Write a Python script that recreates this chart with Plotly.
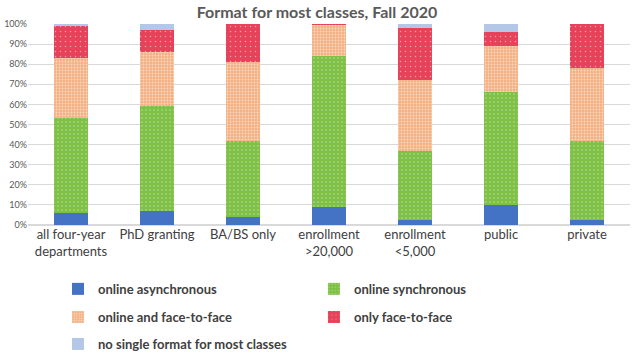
import plotly.graph_objects as go

categories = ["all four-year<br>departments", "PhD granting", "BA/BS only",
              "enrollment<br>&gt;20,000", "enrollment<br>&lt;5,000", "public", "private"]
online_async = [6, 7, 4, 9, 2.5, 10, 2.5]
online_sync = [47, 52, 38, 75, 34.5, 56, 39.5]
online_f2f = [30, 27, 39, 15.5, 35, 23, 36]
only_f2f = [16, 11, 19, 0.5, 26, 7, 22]
no_single = [1, 3, 0, 0, 2, 4, 0]

series = [
    ("online asynchronous", online_async, "#4472C4", None),
    ("online synchronous", online_sync, "#7FC146", dict(shape=".", size=4, solidity=0.12)),
    ("online and face-to-face", online_f2f, "#F4B183", dict(shape=".", size=3, solidity=0.3)),
    ("only face-to-face", only_f2f, "#E6425A", dict(shape=".", size=5, solidity=0.07)),
    ("no single format for most classes", no_single, "#B4C7E7", None),
]

legend_pos = [(0.0498, -0.318), (0.475, -0.318), (0.0498, -0.458), (0.475, -0.458), (0.0498, -0.592)]
legend_names = ["legend", "legend2", "legend3", "legend4", "legend5"]

fig = go.Figure()
for i, (name, vals, color, pat) in enumerate(series):
    marker = dict(color=color, line=dict(width=0))
    if pat:
        marker["pattern"] = dict(fillmode="overlay", fgcolor="white", bgcolor=color, **pat)
    fig.add_trace(go.Bar(name=name, x=categories, y=vals, marker=marker,
                         legend=legend_names[i], showlegend=True))

layout_legends = {}
for i, ln in enumerate(legend_names):
    x, y = legend_pos[i]
    layout_legends[ln] = dict(x=x, y=y, xanchor="left", yanchor="middle",
                              bgcolor="rgba(0,0,0,0)", visible=True,
                              font=dict(family="Lato", size=13, color="#404040", weight="bold"))

fig.update_layout(
    width=634, height=356,
    showlegend=True,
    barmode="stack", bargap=0.6,
    margin=dict(l=28, r=4, t=24, b=131, autoexpand=False),
    paper_bgcolor="white", plot_bgcolor="white",
    title=dict(text="<b>Format for most classes, Fall 2020</b>", x=0.5, xanchor="center",
               y=0.965, yanchor="middle", font=dict(family="Lato", size=16, color="#595959")),
    font=dict(family="Lato", color="#404040"),
    xaxis=dict(tickfont=dict(family="Lato", size=13, color="#404040"), showgrid=False,
               showline=False, ticks="", automargin=False),
    yaxis=dict(range=[0, 100], dtick=10, ticksuffix="%", showgrid=True, gridcolor="#D9D9D9",
               gridwidth=1, zeroline=True, zerolinecolor="#D9D9D9", automargin=False,
               tickfont=dict(family="Lato", size=9, color="#595959")),
    **layout_legends,
)

fig.write_html("out.html", post_script="document.body.style.margin='0';",
               config={"displayModeBar": False})
